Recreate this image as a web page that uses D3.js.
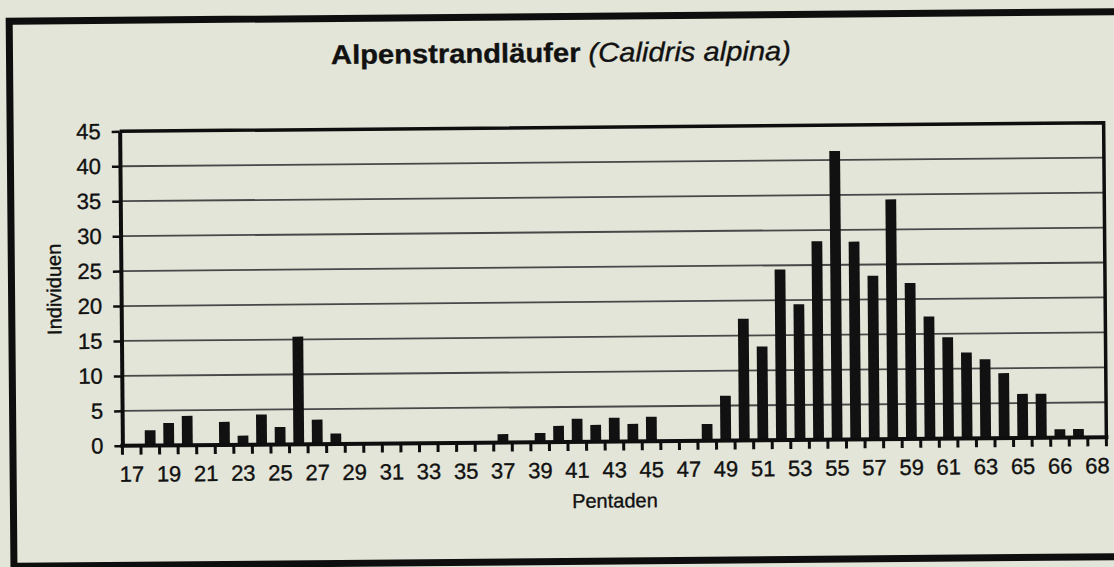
<!DOCTYPE html>
<html>
<head>
<meta charset="utf-8">
<script src="https://cdn.jsdelivr.net/npm/d3@7"></script>
<style>
  body { margin: 0; background: #e3e5d8; }
  svg { display: block; font-family: "Liberation Sans", Arial, sans-serif; }
  text { fill: #111; stroke: #111; stroke-width: 0.35px; }
</style>
</head>
<body>
<div id="chart"></div>
<script>
// Pentaden 17..69 (one bar slot each)
var pentads = [17, 18, 19, 20, 21, 22, 23, 24, 25, 26, 27, 28, 29, 30, 31, 32, 33, 34,
  35, 36, 37, 38, 39, 40, 41, 42, 43, 44, 45, 46, 47, 48, 49, 50, 51, 52,
  53, 54, 55, 56, 57, 58, 59, 60, 61, 62, 63, 64, 65, 66, 67, 68, 69];

// Individuen per Pentade
var individuen = [0, 2.2, 3.2, 4.2, 0, 3.3, 1.3, 4.3, 2.5, 15.4, 3.5, 1.5, 0, 0, 0, 0, 0, 0,
  0, 0, 1.2, 0, 1.3, 2.3, 3.3, 2.4, 3.4, 2.5, 3.5, 0, 0, 2.4, 6.4, 17.4, 13.4, 24.4,
  19.4, 28.4, 41.3, 28.3, 23.4, 34.3, 22.3, 17.5, 14.5, 12.3, 11.3, 9.3, 6.3, 6.3, 1.2, 1.2, 0];

// printed labels under every second slot (as printed, incl. "66 68")
var tickLabels = ["17", "19", "21", "23", "25", "27", "29", "31", "33", "35", "37", "39", "41",
  "43", "45", "47", "49", "51", "53", "55", "57", "59", "61", "63", "65", "66", "68"];

var yTicks = [0, 5, 10, 15, 20, 25, 30, 35, 40, 45];

(function () {
    var width = 1114,
        height = 567;

    var svg = d3.select("#chart")
        .append("svg")
        .attr("width", width)
        .attr("height", height)

    // the scan sits slightly crooked
    var g = svg.append("g")
        .attr("transform", "rotate(-0.5 557 283)")

    // outer frame
    g.append("rect")
        .attr("x", 11.5)
        .attr("y", 16.5)
        .attr("width", 1125)
        .attr("height", 545)
        .attr("fill", "none")
        .attr("stroke", "#0e0e0e")
        .attr("stroke-width", 7)

    // title
    var title = g.append("text")
        .attr("x", 563)
        .attr("y", 62)
        .attr("text-anchor", "middle")
        .attr("font-size", 27)
        .attr("textLength", 460)
        .attr("lengthAdjust", "spacingAndGlyphs")
    title.append("tspan").attr("font-weight", "bold").text("Alpenstrandläufer ")
    title.append("tspan").attr("font-style", "italic").text("(Calidris alpina)")

    var x = d3.scaleBand()
        .domain(pentads)
        .range([121, 1105])
        .paddingInner(0.42)
        .paddingOuter(0.21)

    var y = d3.scaleLinear()
        .domain([0, 45])
        .range([442, 127.5])

    // gridlines
    g.selectAll(".grid")
        .data(yTicks.slice(1, -1))
        .enter().append("line")
        .attr("class", "grid")
        .attr("x1", 121)
        .attr("x2", 1105)
        .attr("y1", function (d) { return y(d) })
        .attr("y2", function (d) { return y(d) })
        .attr("stroke", "#484848")
        .attr("stroke-width", 1.8)

    // bars
    g.selectAll(".bar")
        .data(pentads)
        .enter().append("rect")
        .attr("class", "bar")
        .attr("x", function (d) { return x(d) })
        .attr("width", x.bandwidth())
        .attr("y", function (d, i) { return y(individuen[i]) })
        .attr("height", function (d, i) { return y(0) - y(individuen[i]) })
        .attr("fill", "#111")

    // y axis
    var yAxis = g.append("g")
        .attr("transform", "translate(121,0)")
        .call(d3.axisLeft(y).tickValues(yTicks).tickSize(8).tickSizeOuter(0).tickPadding(11))
    yAxis.select(".domain").attr("stroke", "#0e0e0e").attr("stroke-width", 4)
    yAxis.selectAll(".tick line").attr("stroke", "#0e0e0e").attr("stroke-width", 2.5)
    yAxis.selectAll(".tick text")
        .attr("font-size", 22)
        .attr("font-family", "Liberation Sans, Arial, sans-serif")

    // top and right border of the plot
    g.append("path")
        .attr("d", "M121," + y(45) + "H1105V" + y(0))
        .attr("fill", "none")
        .attr("stroke", "#0e0e0e")
        .attr("stroke-width", 3.5)

    // x axis: ticks on slot borders, labels under every second slot
    var borders = d3.range(pentads.length + 1).map(function (i) {
        return x.range()[0] + i * x.step()
    })
    g.selectAll(".xtick")
        .data(borders)
        .enter().append("line")
        .attr("class", "xtick")
        .attr("x1", function (d) { return d })
        .attr("x2", function (d) { return d })
        .attr("y1", y(0))
        .attr("y2", y(0) + 9)
        .attr("stroke", "#0e0e0e")
        .attr("stroke-width", 3)

    g.append("line")
        .attr("x1", 119)
        .attr("x2", 1107)
        .attr("y1", y(0))
        .attr("y2", y(0))
        .attr("stroke", "#0e0e0e")
        .attr("stroke-width", 4)

    g.selectAll(".xlabel")
        .data(tickLabels)
        .enter().append("text")
        .attr("class", "xlabel")
        .attr("x", function (d, i) { return x(pentads[i * 2]) + x.bandwidth() / 2 })
        .attr("y", 478)
        .attr("text-anchor", "middle")
        .attr("font-size", 22)
        .text(function (d) { return d })

    // axis titles
    g.append("text")
        .attr("x", 613)
        .attr("y", 508)
        .attr("text-anchor", "middle")
        .attr("font-size", 20)
        .text("Pentaden")

    g.append("text")
        .attr("transform", "translate(61,285) rotate(-90)")
        .attr("text-anchor", "middle")
        .attr("font-size", 20)
        .text("Individuen")
})();
</script>
</body>
</html>
